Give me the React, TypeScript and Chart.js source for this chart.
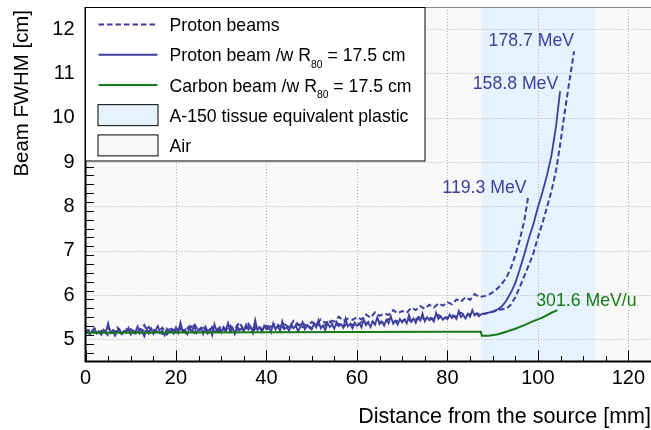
import React, { useEffect, useRef } from "react";
import { Chart, registerables } from "chart.js";

Chart.register(...registerables);

// ---------------- data ----------------
const xMin = 0;
const xMax = 125;
const yMin = 4.5;
const yMax = 12.5;
const xTickValues = [0, 20, 40, 60, 80, 100, 120];
const yTickValues = [5, 6, 7, 8, 9, 10, 11, 12];
const xMinorStep = 5;
const yMinorStep = 0.2;
const plasticRange = [87.5, 112.5];

// sampling step (mm) of the noisy part in air
const fineStep = 0.5;
const coarseStep = 1;

// Proton beam /w R80 = 17.5 cm (158.8 MeV), solid, noisy part x = 0 .. 87.5 step 0.5
const proton158Noise = [
  5.15, 5.21, 5.12, 5.19, 5.24, 5.13, 5.18, 5.10, 5.22, 5.16,
  5.36, 5.14, 5.20, 5.08, 5.17, 5.23, 5.12, 5.19, 5.15, 5.26,
  5.11, 5.20, 5.16, 5.29, 5.13, 5.18, 5.07, 5.22, 5.17, 5.25,
  5.12, 5.21, 5.30, 5.14, 5.19, 5.09, 5.24, 5.16, 5.20, 5.13,
  5.27, 5.15, 5.38, 5.17, 5.22, 5.11, 5.25, 5.18, 5.31, 5.14,
  5.20, 5.26, 5.12, 5.29, 5.18, 5.23, 5.09, 5.34, 5.19, 5.24,
  5.15, 5.28, 5.21, 5.37, 5.17, 5.26, 5.12, 5.30, 5.20, 5.25,
  5.18, 5.33, 5.22, 5.28, 5.14, 5.44, 5.21, 5.27, 5.17, 5.31,
  5.23, 5.29, 5.16, 5.36, 5.22, 5.30, 5.19, 5.41, 5.24, 5.27,
  5.20, 5.34, 5.25, 5.31, 5.18, 5.29, 5.39, 5.23, 5.32, 5.26,
  5.22, 5.35, 5.27, 5.43, 5.25, 5.31, 5.21, 5.37, 5.28, 5.33,
  5.24, 5.39, 5.30, 5.34, 5.26, 5.47, 5.29, 5.35, 5.25, 5.38,
  5.30, 5.36, 5.27, 5.45, 5.32, 5.38, 5.28, 5.41, 5.33, 5.50,
  5.34, 5.40, 5.31, 5.44, 5.36, 5.52, 5.35, 5.42, 5.33, 5.46,
  5.38, 5.45, 5.36, 5.55, 5.40, 5.47, 5.37, 5.49, 5.42, 5.58,
  5.41, 5.50, 5.43, 5.47, 5.40, 5.60, 5.46, 5.52, 5.44, 5.49,
  5.45, 5.56, 5.48, 5.53, 5.46, 5.64, 5.50, 5.55, 5.47, 5.58,
  5.51, 5.66, 5.54, 5.59, 5.52, 5.57,
];
const proton158TailX = [88.5, 90, 91, 92, 93, 94, 95, 96, 97, 98, 99, 100, 101, 102, 103, 104, 104.9];
const proton158TailY = [5.58, 5.63, 5.67, 5.74, 5.87, 6.05, 6.27, 6.58, 6.92, 7.28, 7.6, 7.98, 8.32, 8.7, 9.15, 9.8, 10.6];

// Proton beam 119.3 MeV, dashed, noisy part x = 0 .. 87 step 1
const proton119Noise = [
  5.19, 5.12, 5.25, 5.16, 5.21, 5.09, 5.18, 5.27, 5.14, 5.20,
  5.23, 5.15, 5.19, 5.32, 5.13, 5.22, 5.17, 5.26, 5.11, 5.24,
  5.18, 5.29, 5.15, 5.24, 5.35, 5.19, 5.26, 5.13, 5.28, 5.21,
  5.30, 5.18, 5.27, 5.23, 5.38, 5.21, 5.29, 5.25, 5.33, 5.20,
  5.31, 5.26, 5.37, 5.29, 5.34, 5.27, 5.42, 5.32, 5.36, 5.30,
  5.39, 5.34, 5.45, 5.37, 5.43, 5.40, 5.51, 5.42, 5.47, 5.44,
  5.50, 5.45, 5.56, 5.49, 5.61, 5.53, 5.58, 5.55, 5.66, 5.59,
  5.64, 5.60, 5.71, 5.66, 5.75, 5.69, 5.78, 5.72, 5.81, 5.76,
  5.84, 5.79, 5.90, 5.85, 5.95, 5.89, 6.02, 5.96,
];
const proton119TailX = [88, 89, 90, 91, 92, 93, 94, 95, 96, 97, 97.9];
const proton119TailY = [5.97, 6.0, 6.06, 6.14, 6.25, 6.39, 6.6, 6.9, 7.25, 7.68, 8.25];

// Proton beam 178.7 MeV, dashed, noisy part x = 0 .. 87 step 1
const proton178Noise = [
  5.14, 5.22, 5.17, 5.10, 5.20, 5.26, 5.15, 5.19, 5.12, 5.23,
  5.17, 5.13, 5.24, 5.19, 5.28, 5.15, 5.21, 5.12, 5.20, 5.25,
  5.16, 5.23, 5.19, 5.30, 5.14, 5.22, 5.27, 5.18, 5.24, 5.13,
  5.25, 5.20, 5.31, 5.17, 5.26, 5.22, 5.35, 5.19, 5.28, 5.24,
  5.21, 5.30, 5.26, 5.33, 5.23, 5.29, 5.25, 5.38, 5.27, 5.31,
  5.26, 5.34, 5.29, 5.32, 5.40, 5.30, 5.35, 5.28, 5.37, 5.33,
  5.31, 5.39, 5.35, 5.43, 5.34, 5.40, 5.37, 5.46, 5.39, 5.42,
  5.41, 5.48, 5.40, 5.45, 5.52, 5.44, 5.49, 5.46, 5.55, 5.48,
  5.50, 5.54, 5.51, 5.60, 5.53, 5.57, 5.55, 5.58,
];
const proton178TailX = [88, 89, 90, 91, 92, 93, 94, 95, 96, 97, 98, 99, 100, 101, 102, 103, 104, 105, 106, 107, 108];
const proton178TailY = [5.58, 5.6, 5.62, 5.65, 5.68, 5.69, 5.78, 5.95, 6.18, 6.43, 6.68, 6.94, 7.3, 7.62, 7.98, 8.35, 8.8, 9.45, 10.18, 10.85, 11.5];

// Carbon beam /w R80 = 17.5 cm (301.6 MeV/u)
const carbonX = [0, 20, 40, 60, 80, 87.4, 87.6, 89, 91, 93, 95, 97, 99, 101, 103, 104.3];
const carbonY = [5.15, 5.155, 5.16, 5.165, 5.17, 5.17, 5.08, 5.08, 5.11, 5.17, 5.24, 5.32, 5.41, 5.49, 5.6, 5.66];

// energy annotations (right end of text, in data coordinates)
const energyLabels = ["178.7 MeV", "158.8 MeV", "119.3 MeV", "301.6 MeV/u"];
const energyLabelX = [108.0, 104.5, 97.5, 121.8];
const energyLabelY = [11.72, 10.76, 8.41, 5.87];
const energyLabelKind = ["p", "p", "p", "c"];

// legend entries
const legendMain = ["Proton beams", "Proton beam /w R", "Carbon beam /w R", "A-150 tissue equivalent plastic", "Air"];
const legendSub = ["", "80", "80", "", ""];
const legendTail = ["", " = 17.5 cm", " = 17.5 cm", "", ""];
const legendKind = ["dash", "solid", "green", "plastic", "air"];

const xTitle = "Distance from the source [mm]";
const yTitle = "Beam FWHM [cm]";

// ---------------- styles ----------------
const FAMILY = '"Liberation Sans", Arial, Helvetica, sans-serif';
const BLUE = "rgb(62,62,158)";
const GREEN = "rgb(22,122,22)";
const PLASTIC = "#e6f2fd";
const AIR = "#f9f9f9";
const DASH = [5.5, 3];

const fromNoise = (vals: number[], step: number) => vals.map((y, i) => ({ x: i * step, y }));
const fromPairs = (xs: number[], ys: number[]) => xs.map((x, i) => ({ x, y: ys[i] }));

const framePlugin = {
  id: "frame",
  beforeDatasetsDraw(chart: any) {
    const { ctx, chartArea: a, scales } = chart;
    const xs = scales.x;
    const ys = scales.y;
    ctx.save();
    ctx.fillStyle = AIR;
    ctx.fillRect(a.left, a.top, a.right - a.left, a.bottom - a.top);
    const b0 = xs.getPixelForValue(plasticRange[0]);
    const b1 = xs.getPixelForValue(plasticRange[1]);
    ctx.fillStyle = PLASTIC;
    ctx.fillRect(b0, a.top, b1 - b0, a.bottom - a.top);
    ctx.strokeStyle = "#b0b0b0";
    ctx.lineWidth = 1;
    ctx.setLineDash([1, 2]);
    for (const v of xTickValues) {
      if (v <= xMin) continue;
      const px = Math.round(xs.getPixelForValue(v)) + 0.5;
      ctx.beginPath();
      ctx.moveTo(px, a.top);
      ctx.lineTo(px, a.bottom);
      ctx.stroke();
    }
    for (const v of yTickValues) {
      const py = Math.round(ys.getPixelForValue(v)) + 0.5;
      ctx.beginPath();
      ctx.moveTo(a.left, py);
      ctx.lineTo(a.right, py);
      ctx.stroke();
    }
    ctx.restore();
  },
  afterDatasetsDraw(chart: any) {
    const { ctx, chartArea: a, scales } = chart;
    const xs = scales.x;
    const ys = scales.y;
    ctx.save();
    ctx.strokeStyle = "#000";
    ctx.lineWidth = 1;
    // x ticks (inside)
    for (let v = xMin; v <= xMax + 1e-9; v += xMinorStep) {
      const major = xTickValues.includes(v);
      const px = Math.round(xs.getPixelForValue(v)) + 0.5;
      ctx.beginPath();
      ctx.moveTo(px, a.bottom);
      ctx.lineTo(px, a.bottom - (major ? 11 : 5.5));
      ctx.stroke();
    }
    // y ticks (inside)
    for (let k = 0; ; k++) {
      const v = Math.round((yMin + yMinorStep + k * yMinorStep) * 10) / 10;
      if (v >= yMax) break;
      const major = yTickValues.includes(v);
      const py = Math.round(ys.getPixelForValue(v)) + 0.5;
      ctx.beginPath();
      ctx.moveTo(a.left, py);
      ctx.lineTo(a.left + (major ? 17 : 8.5), py);
      ctx.stroke();
    }
    // frame
    ctx.strokeStyle = "#8a8a8a";
    ctx.beginPath();
    ctx.moveTo(a.left, a.top + 0.5);
    ctx.lineTo(a.right, a.top + 0.5);
    ctx.stroke();
    ctx.strokeStyle = "#000";
    ctx.lineWidth = 2;
    ctx.beginPath();
    ctx.moveTo(a.left, a.top);
    ctx.lineTo(a.left, a.bottom);
    ctx.lineTo(a.right, a.bottom);
    ctx.stroke();

    // energy labels
    ctx.font = `17.7px ${FAMILY}`;
    ctx.textAlign = "right";
    ctx.textBaseline = "middle";
    energyLabels.forEach((t, i) => {
      ctx.fillStyle = energyLabelKind[i] === "c" ? GREEN : BLUE;
      ctx.fillText(t, xs.getPixelForValue(energyLabelX[i]), ys.getPixelForValue(energyLabelY[i]));
    });
    ctx.restore();
  },
  afterDraw(chart: any) {
    const { ctx, chartArea: a } = chart;
    ctx.save();
    // legend
    const L = a.left;
    const T = a.top;
    ctx.fillStyle = "#ffffff";
    ctx.fillRect(L, T, 340, 154);
    ctx.strokeStyle = "#000";
    ctx.lineWidth = 1;
    ctx.strokeRect(L, T + 0.5, 339.5, 153.5);
    const mainFont = `17.7px ${FAMILY}`;
    const subFont = `10.3px ${FAMILY}`;
    legendMain.forEach((txt, i) => {
      const base = T + 24 + 30.25 * i;
      const mid = base - 6.6;
      const kind = legendKind[i];
      if (kind === "dash" || kind === "solid" || kind === "green") {
        ctx.strokeStyle = kind === "green" ? GREEN : BLUE;
        ctx.lineWidth = 2;
        ctx.setLineDash(kind === "dash" ? DASH : []);
        ctx.beginPath();
        ctx.moveTo(L + 13, mid);
        ctx.lineTo(L + 72, mid);
        ctx.stroke();
        ctx.setLineDash([]);
      } else {
        ctx.fillStyle = kind === "plastic" ? PLASTIC : "#f7f7f7";
        ctx.fillRect(L + 12.5, mid - 10.5, 60, 21);
        ctx.strokeStyle = "#000";
        ctx.lineWidth = 1;
        ctx.strokeRect(L + 12.5, mid - 10.5, 60, 21);
      }
      ctx.fillStyle = "#000";
      ctx.textAlign = "left";
      ctx.textBaseline = "alphabetic";
      let x = L + 84;
      ctx.font = mainFont;
      ctx.fillText(txt, x, base);
      x += ctx.measureText(txt).width;
      if (legendSub[i]) {
        ctx.font = subFont;
        ctx.fillText(legendSub[i], x, base + 6.6);
        x += ctx.measureText(legendSub[i]).width;
        ctx.font = mainFont;
        ctx.fillText(legendTail[i], x, base);
      }
    });

    // axis titles
    ctx.fillStyle = "#000";
    ctx.font = `21.5px ${FAMILY}`;
    ctx.textAlign = "right";
    ctx.textBaseline = "alphabetic";
    ctx.fillText(xTitle, 651, 423);
    ctx.translate(28, 10);
    ctx.rotate(-Math.PI / 2);
    ctx.font = `20.4px ${FAMILY}`;
    ctx.textAlign = "right";
    ctx.fillText(yTitle, 0, 0);
    ctx.restore();
  },
};

export default function App() {
  const ref = useRef<HTMLCanvasElement | null>(null);

  useEffect(() => {
    if (!ref.current) return;
    const line = { showLine: true, pointRadius: 0, borderWidth: 2, tension: 0, fill: false };
    const chart = new Chart(ref.current, {
      type: "scatter",
      data: {
        datasets: [
          {
            ...line,
            label: "Carbon beam",
            data: fromPairs(carbonX, carbonY),
            borderColor: GREEN,
          },
          {
            ...line,
            label: "158.8 MeV",
            data: [...fromNoise(proton158Noise, fineStep), ...fromPairs(proton158TailX, proton158TailY)],
            borderColor: BLUE,
            borderWidth: 1.8,
          },
          {
            ...line,
            label: "178.7 MeV",
            data: [...fromNoise(proton178Noise, coarseStep), ...fromPairs(proton178TailX, proton178TailY)],
            borderColor: BLUE,
            borderDash: DASH,
          },
          {
            ...line,
            label: "119.3 MeV",
            data: [...fromNoise(proton119Noise, coarseStep), ...fromPairs(proton119TailX, proton119TailY)],
            borderColor: BLUE,
            borderDash: DASH,
          },
        ],
      },
      options: {
        responsive: false,
        animation: false,
        devicePixelRatio: 1,
        events: [],
        layout: { padding: { top: 7, right: 0, left: 0, bottom: 0 } },
        plugins: { legend: { display: false }, tooltip: { enabled: false }, title: { display: false } },
        scales: {
          x: {
            type: "linear",
            min: xMin,
            max: xMax,
            afterBuildTicks: (s: any) => {
              s.ticks = xTickValues.map((v) => ({ value: v }));
            },
            afterFit: (s: any) => {
              s.height = 68.5;
              s.paddingLeft = 0;
              s.paddingRight = 0;
            },
            grid: { display: false, drawTicks: false },
            border: { display: false },
            ticks: { color: "#000", font: { family: FAMILY, size: 20 }, padding: 5, maxRotation: 0 },
          },
          y: {
            type: "linear",
            min: yMin,
            max: yMax,
            afterBuildTicks: (s: any) => {
              s.ticks = yTickValues.map((v) => ({ value: v }));
            },
            afterFit: (s: any) => {
              s.width = 85.5;
              s.paddingTop = 0;
              s.paddingBottom = 0;
            },
            grid: { display: false, drawTicks: false },
            border: { display: false },
            ticks: { color: "#000", font: { family: FAMILY, size: 20 }, padding: 11 },
          },
        },
      },
      plugins: [framePlugin],
    } as any);
    return () => chart.destroy();
  }, []);

  return (
    <div style={{ position: "fixed", left: 0, top: 0, width: 651, height: 430, background: "#fff" }}>
      <canvas ref={ref} width={651} height={430} style={{ width: 651, height: 430, display: "block" }} />
    </div>
  );
}
